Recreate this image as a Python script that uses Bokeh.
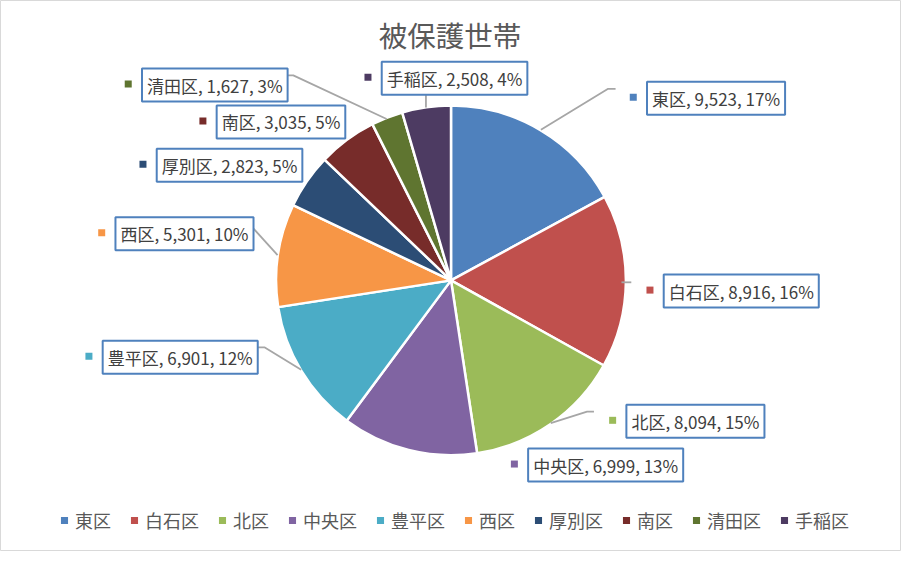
import math
from bokeh.plotting import figure
from bokeh.models import Range1d, Legend, LegendItem, ColumnDataSource
from bokeh.core.properties import value
from bokeh.embed import file_html
from bokeh.resources import INLINE

# ---- data ----
districts = ["東区", "白石区", "北区", "中央区", "豊平区", "西区", "厚別区", "南区", "清田区", "手稲区"]
households = [9523, 8916, 8094, 6999, 6901, 5301, 2823, 3035, 1627, 2508]
colors = ["#4F81BD", "#C0504D", "#9BBB59", "#8064A2", "#4BACC6",
          "#F79646", "#2C4D75", "#772C2A", "#5F7530", "#4D3B62"]
title_text = "被保護世帯"

# ---- layout (reference pixel coordinates of a 917x567 chart) ----
CX, CY, R = 458.5, 288.0, 178.0
label_left = [652, 669, 631, 531, 98, 111, 153, 214, 138, 382]
label_cy = [100.5, 299, 433, 478, 367, 240, 169.5, 125, 87, 80]
leader_paths = [
    [(550, 133), (618, 91), (626, 91)],
    [(632, 290), (642, 290)],
    [(560, 435), (597, 423), (604, 423)],
    [(306, 380), (269, 357), (260, 357)],
    [(282, 262), (255, 232)],
    [(393, 122), (298, 77), (290, 77)],
    [(433, 95), (433, 110)],
]
FONT = "Noto Sans CJK JP"
W, H = 901, 551
REF_W, REF_H = 917, 567

# percentages rounded to sum to 100 (largest remainder)
total = sum(households)
raw = [v * 100.0 / total for v in households]
pcts = [int(math.floor(r)) for r in raw]
rem = 100 - sum(pcts)
order = sorted(range(len(raw)), key=lambda i: raw[i] - math.floor(raw[i]), reverse=True)
for i in order[:rem]:
    pcts[i] += 1

# wedge angles, clockwise from 12 o'clock
cum = [0.0]
for v in households:
    cum.append(cum[-1] + v / total)
starts = [math.pi / 2 - 2 * math.pi * cum[i + 1] for i in range(len(households))]
ends = [math.pi / 2 - 2 * math.pi * cum[i] for i in range(len(households))]

src = ColumnDataSource(dict(
    x=[CX] * len(households), y=[-CY] * len(households),
    start=starts, end=ends, color=colors, name=districts,
))

p = figure(width=W, height=H, output_backend="svg", toolbar_location=None,
           x_range=Range1d(0, REF_W), y_range=Range1d(-REF_H, 0),
           x_axis_type=None, y_axis_type=None, min_border=0,
           background_fill_color="white", border_fill_color="white",
           outline_line_color="#D9D9D9", outline_line_width=1)
p.grid.visible = False

wr = p.wedge(x="x", y="y", radius=R, start_angle="start", end_angle="end",
             direction="anticlock", fill_color="color", line_color="white",
             line_width=2.5, source=src)

# leader lines
p.multi_line(xs=[[pt[0] for pt in path] for path in leader_paths],
             ys=[[-pt[1] for pt in path] for path in leader_paths],
             line_color="#A6A6A6", line_width=1.8)

# data labels
label_texts = [f"{d}, {v:,}, {pc}%" for d, v, pc in zip(districts, households, pcts)]
PAD_H = 5
p.text(x=[l + 1 + PAD_H for l in label_left], y=[-c for c in label_cy], text=label_texts,
       text_font=value(FONT), text_font_size="17px", text_color="#404040",
       text_align="left", text_baseline="middle",
       background_fill_color="white", border_line_color="#4F81BD",
       border_line_width=2, padding=(PAD_H, 4))
p.scatter(x=[l - 8 for l in label_left], y=[-c + 1 for c in label_cy], marker="square",
          size=7, fill_color=colors, line_color=None)

# title
p.text(x=[457.5], y=[-35], text=[title_text], text_font=value(FONT),
       text_font_size="28.5px", text_color="#595959", text_align="center",
       text_baseline="middle")

# legend
items = [LegendItem(label=d, renderers=[wr], index=i) for i, d in enumerate(districts)]
legend = Legend(items=items, orientation="horizontal", location=(58, 18),
                glyph_width=12, glyph_height=12, label_standoff=5, spacing=17,
                padding=0, margin=0, border_line_color=None, background_fill_alpha=0,
                label_text_font=FONT, label_text_font_size="18px",
                label_text_color="#595959", label_height=12)
p.add_layout(legend)

open("out.html", "w").write(file_html(p, INLINE))
